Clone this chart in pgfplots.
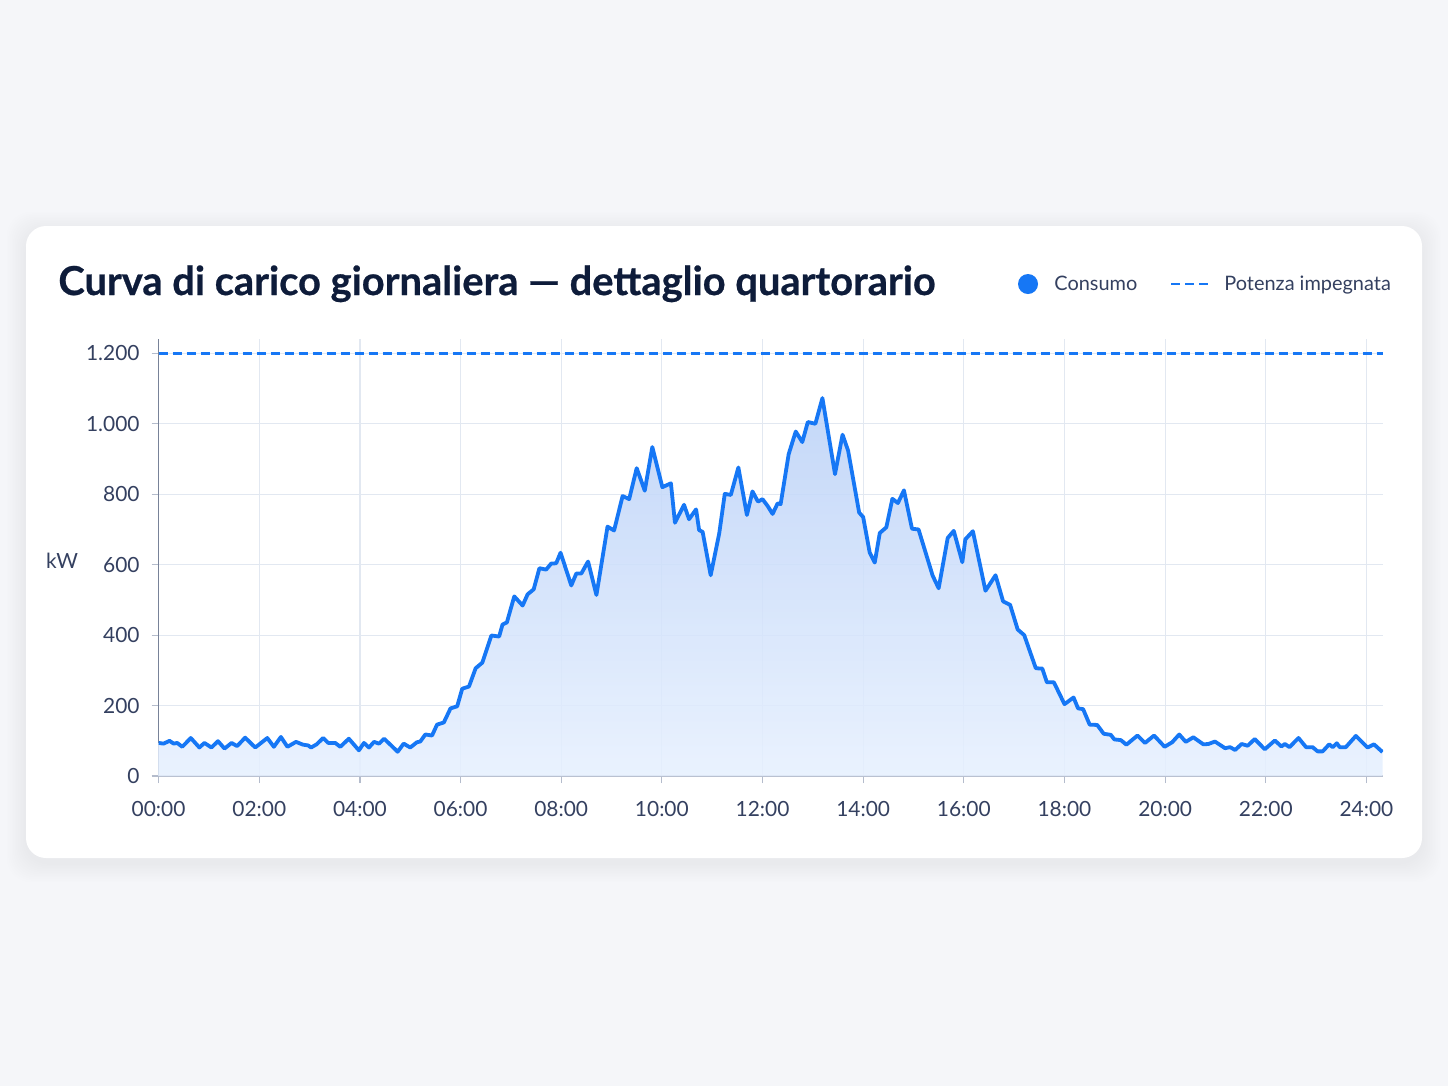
\documentclass[border=0pt]{standalone}
\usepackage{pgfplots}
\usepackage{pgfplotstable}
\pgfplotsset{compat=1.18}
\usepackage{fontspec}
\setmainfont{Lato}
\newfontfamily\titlefont{Lato}[BoldFeatures={FakeBold=0.6}]
\definecolor{bg}{RGB}{245,246,249}
\definecolor{lineblue}{RGB}{22,119,245}
\definecolor{titlecol}{RGB}{14,28,58}
\definecolor{tickcol}{RGB}{52,64,96}
\definecolor{gridcol}{RGB}{226,232,241}
\definecolor{fillTop}{RGB}{186,209,248}
\definecolor{fillBot}{RGB}{230,240,254}
\definecolor{xaxiscol}{RGB}{180,188,204}
\definecolor{yaxiscol}{RGB}{120,130,152}

\pgfplotstableread{
h kw
0 94
0.1 92
0.216 100
0.30 92
0.37 94
0.47 83
0.64 108
0.81 81
0.91 94
1.05 81
1.18 99
1.31 78
1.45 94
1.56 85
1.72 109
1.92 81
2.16 108
2.29 83
2.43 111
2.56 83
2.73 97
2.87 89
2.97 87
3.03 81
3.14 90
3.27 108
3.37 94
3.51 94
3.61 83
3.78 106
3.98 73
4.08 94
4.18 81
4.28 97
4.38 92
4.48 106
4.62 87
4.75 69
4.87 92
5.0 81
5.133 96
5.2 98
5.3 118
5.433 115
5.533 146
5.667 152
5.8 192
5.933 198
6.033 248
6.167 254
6.3 306
6.433 322
6.613 399
6.767 396
6.833 430
6.92 436
7.067 510
7.233 484
7.333 516
7.453 530
7.567 590
7.7 586
7.8 603
7.9 604
7.987 634
8.2 541
8.3 575
8.4 575
8.533 609
8.7 514
8.92 708
9.05 697
9.22 795
9.35 786
9.5 874
9.66 810
9.81 934
10.01 820
10.18 831
10.26 719
10.44 770
10.54 729
10.68 757
10.74 698
10.81 693
10.97 570
11.14 689
11.25 801
11.37 798
11.52 876
11.69 741
11.8 808
11.91 779
12.0 786
12.1 767
12.2 744
12.3 774
12.36 772
12.52 914
12.66 978
12.79 948
12.9 1005
13.05 1000
13.19 1073
13.44 857
13.59 969
13.7 924
13.92 748
14.0 735
14.13 634
14.23 606
14.33 690
14.46 706
14.58 787
14.69 775
14.81 811
14.97 702
15.1 700
15.22 644
15.38 569
15.5 533
15.68 676
15.8 696
15.97 607
16.03 672
16.18 695
16.43 526
16.63 570
16.78 496
16.92 486
17.07 416
17.2 400
17.43 306
17.56 305
17.65 266
17.79 266
18.0 204
18.18 223
18.27 192
18.37 190
18.5 146
18.65 145
18.78 120
18.92 117
18.99 104
19.12 102
19.23 89
19.45 115
19.6 94
19.78 115
19.99 83
20.14 96
20.28 118
20.41 97
20.56 110
20.76 90
20.86 91
20.99 98
21.19 79
21.29 82
21.39 74
21.52 91
21.64 86
21.78 105
21.98 76
22.18 101
22.31 84
22.38 91
22.47 82
22.65 108
22.8 82
22.93 82
23.03 70
23.13 70
23.26 90
23.33 82
23.41 93
23.47 82
23.59 82
23.79 114
24.02 81
24.15 90
24.32 68
}\consumo

\begin{document}
\begin{tikzpicture}
\begin{scope}[x=0.5bp,y=-0.5bp]
\useasboundingbox (0,0) rectangle (1448,1086);
\fill[bg] (0,0) rectangle (1448,1086);
\foreach \i in {1,...,12} {
  \fill[black,opacity=0.005,rounded corners=12bp] (26-\i*1.6,226-\i*1.6+5) rectangle (1422+\i*1.6,858+\i*1.6+5);
}
\fill[white,rounded corners=10bp] (26,226) rectangle (1422,858);
\node[anchor=base west,inner sep=0pt,text=titlecol,font=\titlefont\fontsize{20}{22}\selectfont\bfseries] at (58,295) {Curva di carico giornaliera — dettaglio quartorario};
\fill[lineblue] (1028,284) circle (10);
\node[anchor=base west,inner sep=0pt,text=tickcol,font=\fontsize{10}{12}\selectfont] at (1054,290) {Consumo};
\draw[lineblue,line width=1.4bp,dash pattern=on 4.5bp off 2.5bp] (1171,284) -- (1211,284);
\node[anchor=base west,inner sep=0pt,text=tickcol,font=\fontsize{10}{12}\selectfont] at (1224,290) {Potenza impegnata};
\node[text=tickcol,font=\fontsize{10.5}{12}\selectfont,inner sep=0pt] at (62,561) {kW};
\end{scope}
\begin{axis}[
  at={(79.3bp,-388bp)}, anchor=south west,
  scale only axis, width=612.2bp, height=218.4bp,
  xmin=0, xmax=24.33, ymin=0, ymax=1240,
  axis x line*=bottom, axis y line*=left,
  x axis line style={xaxiscol,line width=0.8bp},
  y axis line style={yaxiscol,line width=0.8bp},
  grid=major, major grid style={gridcol,line width=0.6bp},
  xtick={0,2,...,24},
  xticklabels={00:00,02:00,04:00,06:00,08:00,10:00,12:00,14:00,16:00,18:00,20:00,22:00,24:00},
  ytick={0,200,...,1200},
  yticklabels={0,200,400,600,800,1.000,1.200},
  tick label style={font=\fontsize{10.5}{12}\selectfont,text=tickcol},
  tick align=outside, major tick length=3.5bp,
  tick style={xaxiscol,line width=0.6bp},
  xticklabel style={yshift=-5.5bp},
  yticklabel style={xshift=-2.5bp},
]
\addplot[draw=none,top color=fillTop,bottom color=fillBot,fill opacity=0.85] table {\consumo} \closedcycle;
\addplot[lineblue,line width=1.9bp,line join=round] table {\consumo};
\addplot[lineblue,line width=1.3bp,dash pattern=on 4.5bp off 2.5bp] coordinates {(0,1200) (24.33,1200)};
\end{axis}
\end{tikzpicture}
\end{document}
